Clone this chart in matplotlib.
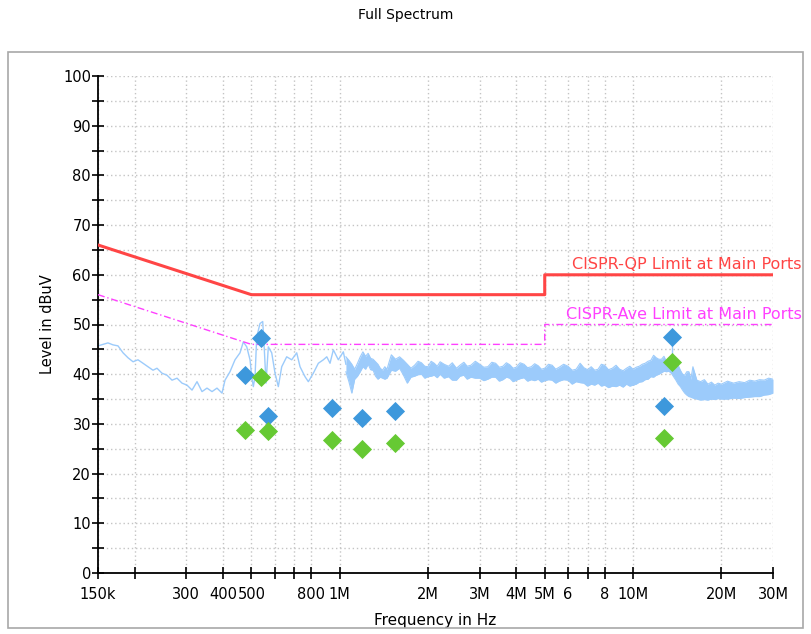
import matplotlib
matplotlib.use('Agg')
import matplotlib.pyplot as plt
from matplotlib.patches import Rectangle
from matplotlib.ticker import MultipleLocator, NullLocator

# limit lines (MHz, dBuV)
lim_freq = [0.15, 0.5, 5.0, 5.0, 30.0]
qp_limit = [66, 56, 56, 60, 60]
ave_limit = [56, 46, 46, 50, 50]

# low frequency part of the spectrum (MHz, dBuV)
trace_freq = [0.150, 0.1622, 0.1688, 0.1755, 0.1826, 0.1899, 0.1975, 0.2053, 0.2136, 0.2221,
              0.231, 0.2383, 0.2479, 0.2578, 0.2682, 0.2789, 0.2901, 0.3017, 0.3138, 0.3263,
              0.3394, 0.3529, 0.3671, 0.3817, 0.397, 0.4065, 0.4227, 0.4397, 0.4573, 0.4693,
              0.4821, 0.4947, 0.5013, 0.5077, 0.5145, 0.5214, 0.535, 0.5465, 0.5535, 0.5609,
              0.5711, 0.5865, 0.602, 0.6177, 0.6344, 0.6597, 0.6862, 0.7137, 0.7325, 0.7618,
              0.7818, 0.8131, 0.8457, 0.8797, 0.9036, 0.927, 0.9513, 0.9894, 1.029, 1.05]
trace_level = [45.7, 46.3, 45.9, 45.7, 44.3, 43.3, 42.5, 42.9, 42.2, 41.5,
               40.8, 41.2, 40.2, 39.8, 38.8, 39.2, 38.2, 37.8, 36.8, 38.5,
               36.5, 37.2, 36.5, 37.2, 36.2, 38.8, 40.5, 42.9, 44.3, 46.5,
               45.5, 42.9, 39.5, 37.5, 39.5, 47.5, 50.2, 50.6, 44.9, 38.2,
               45.5, 44.3, 40.2, 37.5, 41.5, 43.5, 42.9, 44.3, 41.5, 39.5,
               38.5, 40.2, 42.2, 42.9, 43.5, 42.2, 44.9, 42.9, 44.5, 42.0]

# dense part of the spectrum, upper / lower envelope
band_freq = [1.05, 1.075, 1.1, 1.125, 1.15, 1.175, 1.2, 1.225, 1.25, 1.275, 1.3, 1.325,
             1.35, 1.375, 1.4, 1.425, 1.45, 1.475, 1.5, 1.55, 1.6, 1.65, 1.7, 1.75,
             1.8, 1.85, 1.9, 1.95, 2.0, 2.05, 2.1, 2.15, 2.2, 2.27, 2.35, 2.42,
             2.5, 2.57, 2.65, 2.72, 2.8, 2.9, 3.0, 3.1, 3.2, 3.3, 3.4, 3.5,
             3.6, 3.7, 3.8, 3.9, 4.0, 4.12, 4.25, 4.37, 4.5, 4.62, 4.75, 4.87,
             5.0, 5.15, 5.3, 5.45, 5.6, 5.8, 6.0, 6.2, 6.4, 6.6, 6.8, 7.0,
             7.2, 7.4, 7.6, 7.8, 8.0, 8.25, 8.5, 8.75, 9.0, 9.25, 9.5, 9.75,
             10, 10.25, 10.5, 10.75, 11, 11.25, 11.5, 11.75, 12, 12.25, 12.5, 12.75,
             13, 13.25, 13.5, 13.75, 14, 14.25, 14.5, 14.75, 15, 15.25, 15.5, 15.75,
             16, 16.5, 17, 17.5, 18, 18.5, 19, 19.5, 20, 21, 22, 23,
             24, 25, 26, 27, 28, 29, 30]
band_hi = [43.5, 42.8, 42.0, 41.0, 42.2, 43.5, 44.5, 43.6, 44.2, 43.2, 43.0, 42.5,
           42.0, 41.2, 40.8, 41.5, 41.0, 42.5, 43.9, 43.0, 43.5, 42.8, 42.0, 41.2,
           41.8, 42.6, 42.3, 41.6, 41.5, 42.6, 42.2, 41.6, 42.5, 42.0, 41.6, 42.3,
           41.2, 41.8, 42.4, 41.6, 41.8, 42.6, 42.0, 41.4, 41.5, 42.4, 42.2, 41.4,
           41.6, 42.3, 41.9, 41.2, 41.4, 42.3, 42.0, 41.3, 41.5, 42.1, 41.7, 41.0,
           41.2, 42.0, 41.8, 41.0, 41.4, 42.0, 41.6, 40.8, 41.0, 42.2, 41.3, 40.9,
           41.5, 40.8, 41.0, 42.0, 41.8, 40.9, 41.2, 41.8, 41.0, 40.7, 41.2, 41.6,
           41.0, 41.4, 41.6, 42.0, 42.2, 42.6, 42.8, 43.8, 43.3, 43.0, 43.0, 43.6,
           42.5, 42.8, 42.2, 42.0, 41.5, 41.8, 40.8, 40.0, 39.8, 40.5, 40.5, 39.0,
           41.5, 38.8, 38.5, 38.9, 38.0, 38.4, 37.8, 38.2, 38.0, 38.6, 38.2, 38.5,
           38.3, 38.8, 38.6, 38.9, 38.8, 39.2, 39.0]
band_lo = [40.5, 38.5, 36.2, 39.0, 39.6, 40.5, 41.5, 41.0, 42.0, 40.9, 40.8, 39.6,
           39.0, 39.4, 39.2, 39.0, 39.2, 40.0, 40.8, 40.6, 41.2, 39.8, 38.2, 39.4,
           39.6, 39.9, 40.0, 39.2, 39.5, 39.6, 39.8, 39.3, 40.0, 39.2, 39.5, 38.8,
           38.8, 39.6, 39.8, 39.0, 39.4, 39.2, 39.2, 38.7, 39.0, 39.4, 39.4, 38.6,
           38.9, 39.4, 39.2, 38.5, 38.8, 39.1, 39.3, 38.6, 38.9, 38.7, 39.0, 38.4,
           38.7, 38.9, 38.8, 38.2, 38.6, 38.9, 38.8, 38.0, 38.5, 38.3, 38.2, 37.6,
           38.0, 37.8, 38.2, 37.6, 37.8, 37.3, 37.6, 37.5, 37.8, 37.4, 38.0, 37.6,
           37.8, 38.0, 38.4, 38.5, 38.9, 39.0, 39.5, 39.4, 39.8, 40.0, 40.3, 40.6,
           40.5, 40.6, 40.2, 39.5, 38.8, 38.0, 37.5, 36.8, 36.2, 35.8, 35.5, 35.4,
           35.2, 35.0, 34.8, 34.9, 34.8, 35.0, 34.9, 35.1, 35.0, 35.0, 35.2, 35.1,
           35.3, 35.4, 35.5, 35.5, 35.8, 35.9, 36.2]

# final measurement markers
mark_freq = [0.476, 0.539, 0.570, 0.942, 1.19, 1.544, 12.76, 13.59]
qp_level = [39.8, 47.3, 31.6, 33.2, 31.2, 32.6, 33.6, 47.5]
av_level = [28.8, 39.4, 28.6, 26.8, 25.0, 26.2, 27.2, 42.5]

tick_freq = [0.15, 0.2, 0.3, 0.4, 0.5, 0.6, 0.7, 0.8, 1, 2, 3, 4, 5, 6, 7, 8, 10, 20, 30]
tick_text = ['150k', '', '300', '400', '500', '', '', '800', '1M', '2M', '3M', '4M', '5M',
             '6', '', '8', '10M', '20M', '30M']

trace_col = '#9ccbfb'

fig = plt.figure(figsize=(8.11, 6.34), dpi=100)
fig.patches.append(Rectangle((8 / 811, 6 / 634), 795 / 811, 576 / 634, transform=fig.transFigure,
                             fill=False, edgecolor='#a8a8a8', lw=1.2))
fig.text(0.5, 1 - 15 / 634, 'Full Spectrum', ha='center', va='center', fontsize=10)

ax = fig.add_axes([98 / 811, 61 / 634, 675 / 811, 497 / 634])
ax.set_xscale('log')
ax.set_xlim(0.15, 30)
ax.set_ylim(0, 100)

ax.plot(trace_freq, trace_level, color=trace_col, lw=1.0, zorder=2)
ax.fill_between(band_freq, band_lo, band_hi, color=trace_col, lw=0, zorder=2)
ax.plot(band_freq, band_hi, color=trace_col, lw=0.8, zorder=2)
ax.plot(band_freq, band_lo, color=trace_col, lw=0.8, zorder=2)
ax.vlines(mark_freq[7], av_level[7], qp_level[7], color=trace_col, lw=1, zorder=2)

ax.plot(lim_freq, qp_limit, color='#ff4545', lw=2.2, zorder=3)
ax.plot(lim_freq, ave_limit, color='#ff40ff', lw=1.0, ls=(0, (5, 2, 1, 2)), zorder=3)

ax.scatter(mark_freq, qp_level, marker='D', s=95, color='#3d98dc', zorder=4, lw=0)
ax.scatter(mark_freq, av_level, marker='D', s=95, color='#66c933', zorder=4, lw=0)

ax.text(6.2, 60.5, 'CISPR-QP Limit at Main Ports', color='#ff4545', fontsize=11.5,
        va='bottom', ha='left', clip_on=False)
ax.text(5.9, 50.5, 'CISPR-Ave Limit at Main Ports', color='#ff40ff', fontsize=11.5,
        va='bottom', ha='left', clip_on=False)

ax.set_xticks(tick_freq)
ax.set_xticklabels(tick_text)
ax.xaxis.set_minor_locator(NullLocator())
ax.yaxis.set_major_locator(MultipleLocator(10))
ax.yaxis.set_minor_locator(MultipleLocator(5))
ax.tick_params(axis='both', which='both', direction='inout', length=8, width=1.2,
               labelsize=10.5, colors='black')
ax.tick_params(axis='y', pad=1)
ax.tick_params(axis='x', pad=6)

ax.grid(True, which='major', axis='x', color='#c4c4c4', ls=(0, (1, 2)), lw=1)
ax.grid(True, which='both', axis='y', color='#c4c4c4', ls=(0, (1, 2)), lw=1)
ax.set_axisbelow(True)

for s in ['top', 'right']:
    ax.spines[s].set_visible(False)
for s in ['left', 'bottom']:
    ax.spines[s].set_linewidth(1.3)

ax.set_xlabel('Frequency in Hz', fontsize=11, labelpad=8)
ax.set_ylabel('Level in dBuV', fontsize=10.5, labelpad=6)

fig.savefig('out.png', dpi=100)
